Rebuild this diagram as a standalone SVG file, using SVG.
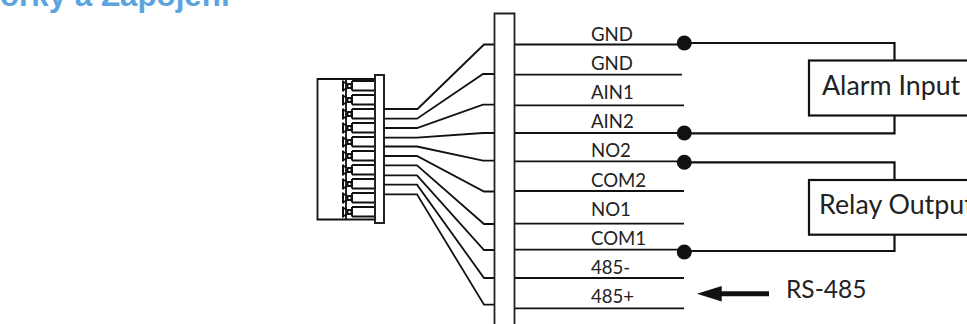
<svg xmlns="http://www.w3.org/2000/svg" xmlns:xlink="http://www.w3.org/1999/xlink" width="967" height="324" viewBox="0 0 967 324">
<style>
.l{fill:none;stroke:#111;stroke-width:1.8}
.p{fill:none;stroke:#111;stroke-width:2}
.b{fill:none;stroke:#111;stroke-width:2.2}
.t{font-family:"Lato","Carlito","Open Sans",sans-serif;font-size:18.600px;fill:#222}
.big{font-family:"Lato","Carlito","Open Sans",sans-serif;font-size:26.800px;fill:#222}
.d{fill:#111}
</style>
<defs>
<g id="pin">
<path class="p" d="M347 -3.500H343V3.500H347M343 -3.500V-5.500M343 3.500V5.500"/>
<rect x="347.500" y="-2" width="4" height="4" class="p"/>
<path class="p" d="M352 -5H374M352 4.500H374M352 -5V4.500"/>
</g>
</defs>
<rect width="967" height="324" fill="#fff"/>
<text x="0" y="5.500" font-family="Liberation Sans, Arial, sans-serif" font-weight="700" font-size="31.300" fill="#5aa5dd">orky a Zapojení</text>
<g id="connector-plug">
<path class="l" d="M374 79H317.500V219.500H374"/>
<path class="l" d="M346 78V220"/>
<use xlink:href="#pin" href="#pin" y="86"/>
<use xlink:href="#pin" href="#pin" y="100"/>
<use xlink:href="#pin" href="#pin" y="114"/>
<use xlink:href="#pin" href="#pin" y="128"/>
<use xlink:href="#pin" href="#pin" y="142"/>
<use xlink:href="#pin" href="#pin" y="156"/>
<use xlink:href="#pin" href="#pin" y="170"/>
<use xlink:href="#pin" href="#pin" y="184"/>
<use xlink:href="#pin" href="#pin" y="198"/>
<use xlink:href="#pin" href="#pin" y="212"/>
<rect x="375" y="75" width="9" height="148" fill="#fff" stroke="#222" stroke-width="2"/>
</g>
<g id="connectors">
<path class="l" d="M384 109H417.500L484 44.500H494"/>
<path class="l" d="M384 118.700H417L483 74H494"/>
<path class="l" d="M384 128H417L483 104.700H494"/>
<path class="l" d="M384 137.700H417L483 133H494"/>
<path class="l" d="M384 146.500H417L483 160.700H494"/>
<path class="l" d="M384 156H417L484 191.500H494"/>
<path class="l" d="M384 165.300H417L484 224H494"/>
<path class="l" d="M384 175.300H417L484 250H494"/>
<path class="l" d="M384 184.700H417L484 278H494"/>
<path class="l" d="M384 194.300H417L484 304.700H494"/>
<path class="l" d="M515 44.500H684"/>
<path class="l" d="M515 74.700H682"/>
<path class="l" d="M515 105.300H684"/>
<path class="l" d="M515 133H684"/>
<path class="l" d="M515 161.300H684"/>
<path class="l" d="M515 191H684"/>
<path class="l" d="M515 223.700H684"/>
<path class="l" d="M515 249.700H684"/>
<path class="l" d="M515 278H684"/>
<path class="l" d="M515 308.300H684"/>
<path class="b" d="M684 43H894.500V60.500"/>
<path class="b" d="M684 133.300H894.500V115.500"/>
<path class="b" d="M684 162.300H894.500V180"/>
<path class="b" d="M684 251H894.500V234.500"/>
<circle class="d" cx="684.300" cy="43" r="7.500"/>
<circle class="d" cx="684.300" cy="133" r="7.500"/>
<circle class="d" cx="684.300" cy="162.300" r="7.500"/>
<circle class="d" cx="684.300" cy="252" r="7.500"/>
<path class="d" d="M697 293.700L721.700 286V291.200H769V296.200H721.700V301.500Z"/>
</g>
<g id="terminal-bar">
<path d="M494.500 324V13.500H514.500V324" fill="#fff" stroke="#222" stroke-width="1.800"/>
</g>
<g id="labels">
<text class="t" x="591" y="41">GND</text>
<text class="t" x="591" y="70">GND</text>
<text class="t" x="591" y="99">AIN1</text>
<text class="t" x="591" y="128">AIN2</text>
<text class="t" x="591" y="157">NO2</text>
<text class="t" x="591" y="186.500">COM2</text>
<text class="t" x="591" y="215.500">NO1</text>
<text class="t" x="591" y="245">COM1</text>
<text class="t" x="591" y="274">485-</text>
<text class="t" x="591" y="303">485+</text>
<text class="big" x="786" y="298" style="font-size:24.500px">RS-485</text>
</g>
<g id="alarm-input">
<rect x="809" y="60.500" width="170" height="55" fill="#fff" stroke="#111" stroke-width="2.200"/>
<text class="big" x="822" y="95">Alarm Input</text>
</g>
<g id="relay-output">
<rect x="809" y="180" width="170" height="54.700" fill="#fff" stroke="#111" stroke-width="2.200"/>
<text class="big" x="819" y="214">Relay Output</text>
</g>
</svg>
